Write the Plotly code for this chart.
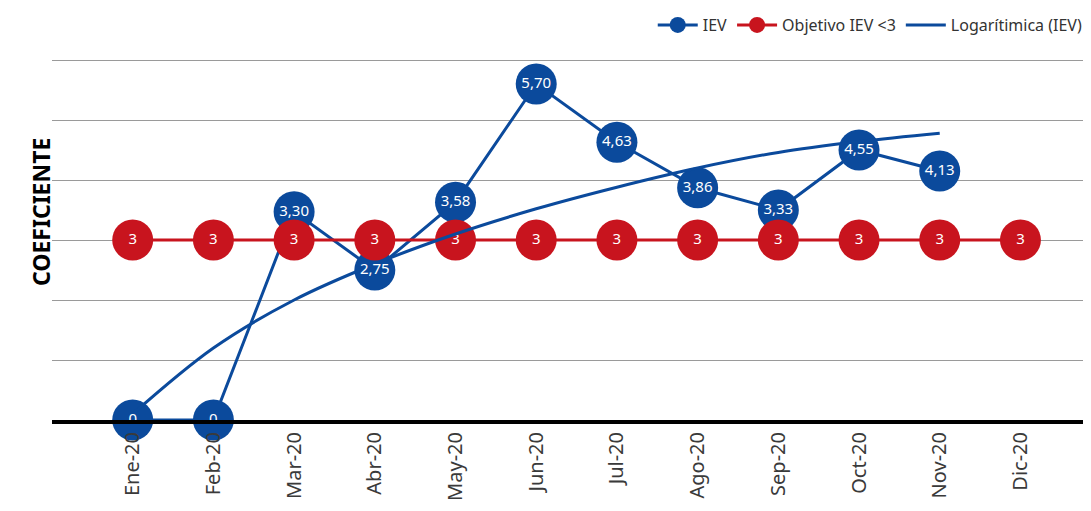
import plotly.graph_objects as go

meses = ["Ene-20", "Feb-20", "Mar-20", "Abr-20", "May-20", "Jun-20",
         "Jul-20", "Ago-20", "Sep-20", "Oct-20", "Nov-20", "Dic-20"]
# valores rotulados del IEV
iev_rotulos = ["0", "0", "3,30", "2,75", "3,58", "5,70", "4,63", "3,86", "3,33", "4,55", "4,13"]
# altura a la que aparece cada punto del IEV en el grafico
iev = [0, 0, 3.47, 2.5, 3.63, 5.6, 4.63, 3.87, 3.5, 4.5, 4.15]
objetivo = [3] * 12
# tendencia logaritmica
tendencia = [0.1, 1.2, 2.0, 2.6, 3.1, 3.52, 3.88, 4.2, 4.46, 4.64, 4.78]

azul = "#0B4A9C"
rojo = "#C8141E"
fuente = "Noto Sans"

fig = go.Figure()

fig.add_trace(go.Scatter(
    x=meses[:len(iev)], y=iev, name="IEV", mode="lines+markers",
    line=dict(color=azul, width=3),
    marker=dict(color=azul, size=41),
    cliponaxis=False,
))

fig.add_trace(go.Scatter(
    x=meses, y=objetivo, name="Objetivo IEV <3", mode="lines+markers+text",
    line=dict(color=rojo, width=3),
    marker=dict(color=rojo, size=41),
    text=[str(v) for v in objetivo], textposition="middle center",
    textfont=dict(color="white", size=15, family=fuente),
    cliponaxis=False,
))

fig.add_trace(go.Scatter(
    x=meses[:len(tendencia)], y=tendencia, name="Logarítimica (IEV)",
    mode="lines", line=dict(color=azul, width=3, shape="spline"),
    cliponaxis=False,
))

# etiquetas del IEV por encima de todo
fig.add_trace(go.Scatter(
    x=meses[:len(iev)], y=iev, mode="text", showlegend=False,
    text=iev_rotulos, textposition="middle center",
    textfont=dict(color="white", size=15, family=fuente),
    cliponaxis=False, hoverinfo="skip",
))

# la pagina tiene 8px de margen en el body
fig.update_layout(
    width=1083, height=503,
    margin=dict(l=44, r=6, t=49, b=91, autoexpand=False),
    plot_bgcolor="white", paper_bgcolor="white",
    font=dict(family=fuente, color="#333333"),
    showlegend=True,
    legend=dict(orientation="h", xref="container", yref="container",
                xanchor="right", x=0.997, yanchor="top", y=1.0,
                font=dict(size=16, color="#333333"), bgcolor="rgba(0,0,0,0)",
                itemwidth=40, traceorder="normal"),
    annotations=[dict(text="<b>COEFICIENTE</b>", xref="paper", yref="paper",
                      x=-0.028, y=0.573, textangle=-90, showarrow=False,
                      font=dict(size=23, color="black", family=fuente))],
)

fig.update_xaxes(
    type="category", range=[-1.0, 11.8], automargin=False,
    tickangle=-90, tickfont=dict(size=20, color="#3a3a3a", family=fuente),
    showgrid=False, showline=True, linecolor="black", linewidth=4,
    ticks="", ticklabelstandoff=0,
)

fig.update_yaxes(
    range=[0, 6.05], dtick=1, showticklabels=False, automargin=False,
    showgrid=True, gridcolor="#9a9a9a", gridwidth=1.2,
    zeroline=False, showline=False,
)

fig.write_html("out.html")
